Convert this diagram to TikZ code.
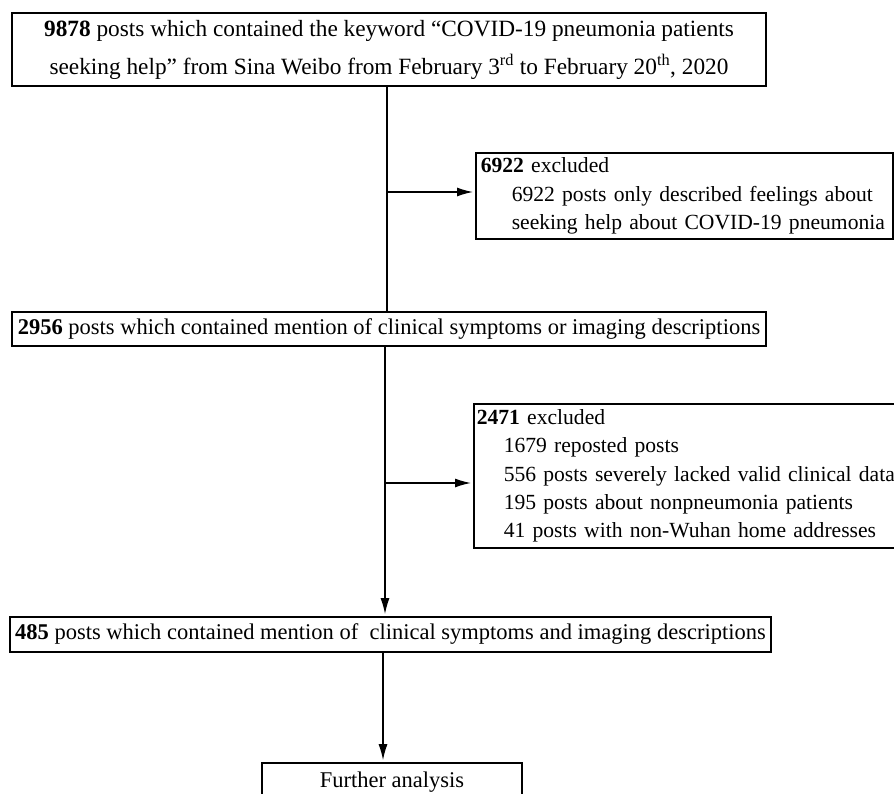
\documentclass[tikz,border=0pt]{standalone}
\usepackage{fontspec}
\setmainfont{Liberation Serif}
\usetikzlibrary{arrows.meta,calc}
\begin{document}
\begin{tikzpicture}[x=1pt,y=-1pt,
  box/.style={draw=black,line width=1.6pt,inner sep=0pt,font=\fontsize{22.5}{28}\selectfont},
  exbox/.style={box,anchor=west,align=left,font=\fontsize{21.6}{28.2}\selectfont},
  conn/.style={line width=1.4pt},
  arr/.style={conn,-{Latex[length=16pt,width=9pt]},shorten >=2pt}]
\useasboundingbox (0,0) rectangle (894,794);
\clip (0,0) rectangle (894,794);
% main boxes
\node[box,minimum width=754pt,minimum height=73pt,align=center,font=\fontsize{23.3}{38}\selectfont] (b1) at (389,49.5)
  {\textbf{9878} posts which contained the keyword “COVID-19 pneumonia patients\\
   seeking help” from Sina Weibo from February 3\textsuperscript{rd} to February 20\textsuperscript{th}, 2020};
\node[box,minimum width=754pt,minimum height=34pt] (b2) at (389,329)
  {\textbf{2956} posts which contained mention of clinical symptoms or imaging descriptions};
\node[box,minimum width=761pt,minimum height=35pt] (b3) at (390.5,634.5)
  {\textbf{485} posts which contained mention of\ \ clinical symptoms and imaging descriptions};
\node[box,minimum width=260pt,minimum height=38pt] (b4) at (392,782)
  {Further analysis};
% exclusion boxes
\node[exbox,text width=407pt,inner xsep=5pt,minimum height=86pt] (e1) at (475,196)
  {\mbox{\textbf{6922} excluded}\\
   \mbox{\hspace*{31pt}6922 posts only described feelings about}\\
   \mbox{\hspace*{31pt}seeking help about COVID-19 pneumonia}};
\node[exbox,text width=440pt,inner xsep=3pt,minimum height=144pt] (e2) at (473,476)
  {\mbox{\textbf{2471} excluded}\\
   \mbox{\hspace*{27pt}1679 reposted posts}\\
   \mbox{\hspace*{27pt}556 posts severely lacked valid clinical data}\\
   \mbox{\hspace*{27pt}195 posts about nonpneumonia patients}\\
   \mbox{\hspace*{27pt}41 posts with non-Wuhan home addresses}};
% connectors
\coordinate (j1) at (387,192);
\coordinate (j2) at (385,483);
\coordinate (j3) at (383,700);
\draw[conn] (b1.south -| j1) -- (b2.north -| j1);
\draw[arr] (j1) -- (e1.west |- j1);
\draw[arr] (b2.south -| j2) -- (b3.north -| j2);
\draw[arr] (j2) -- (e2.west |- j2);
\draw[arr] (b3.south -| j3) -- (b4.north -| j3);
\end{tikzpicture}
\end{document}
